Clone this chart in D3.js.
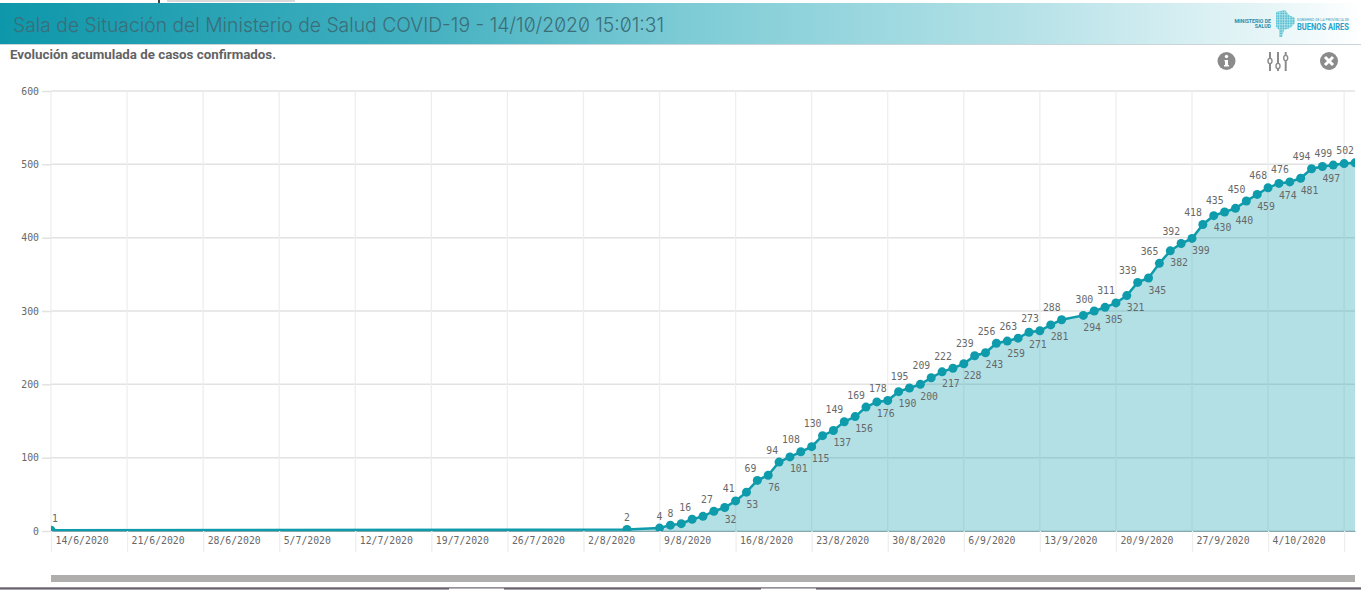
<!DOCTYPE html>
<html>
<head>
<meta charset="utf-8">
<script src="https://cdn.jsdelivr.net/npm/d3@7"></script>
<style>
  html, body { margin: 0; padding: 0; background: #fff; overflow: hidden; }
  svg { display: block; }
  .mono { font-family: "DejaVu Sans Mono", monospace; font-size: 9.8px; fill: #686868; }
  .title { font-family: Inter, Roboto, sans-serif; font-weight: 300; font-size: 20px; font-feature-settings: "zero"; }
</style>
</head>
<body>
<svg id="chart" width="1361" height="590"></svg>
<script>
const titleText = "Sala de Situación del Ministerio de Salud COVID-19 - 14/10/2020 15:01:31";
const subtitleText = "Evolución acumulada de casos confirmados.";

const dates = [
  "14/6/2020", "6/8/2020", "9/8/2020", "10/8/2020", "11/8/2020", "12/8/2020", "13/8/2020", "14/8/2020",
  "15/8/2020", "16/8/2020", "17/8/2020", "18/8/2020", "19/8/2020", "20/8/2020", "21/8/2020", "22/8/2020",
  "23/8/2020", "24/8/2020", "25/8/2020", "26/8/2020", "27/8/2020", "28/8/2020", "29/8/2020", "30/8/2020",
  "31/8/2020", "1/9/2020", "2/9/2020", "3/9/2020", "4/9/2020", "5/9/2020", "6/9/2020", "7/9/2020",
  "8/9/2020", "9/9/2020", "10/9/2020", "11/9/2020", "12/9/2020", "13/9/2020", "14/9/2020", "15/9/2020",
  "17/9/2020", "18/9/2020", "19/9/2020", "20/9/2020", "21/9/2020", "22/9/2020", "23/9/2020", "24/9/2020",
  "25/9/2020", "26/9/2020", "27/9/2020", "28/9/2020", "29/9/2020", "30/9/2020", "1/10/2020", "2/10/2020",
  "3/10/2020", "4/10/2020", "5/10/2020", "6/10/2020", "7/10/2020", "8/10/2020", "9/10/2020", "10/10/2020",
  "11/10/2020", "12/10/2020"
];
const cases = [
  1, 2, 4, 8, 10, 16, 20, 27,
  32, 41, 53, 69, 76, 94, 101, 108,
  115, 130, 137, 149, 156, 169, 176, 178,
  190, 195, 200, 209, 217, 222, 228, 239,
  243, 256, 259, 263, 271, 273, 281, 288,
  294, 300, 305, 311, 321, 339, 345, 365,
  382, 392, 399, 418, 430, 435, 440, 450,
  459, 468, 474, 476, 481, 494, 497, 499,
  501, 502
];
// the chart skips these labels because they would collide
const unlabelled = [10, 20, 501];
const xTicks = [
  "14/6/2020", "21/6/2020", "28/6/2020", "5/7/2020", "12/7/2020", "19/7/2020", "26/7/2020", "2/8/2020", "9/8/2020",
  "16/8/2020", "23/8/2020", "30/8/2020", "6/9/2020", "13/9/2020", "20/9/2020", "27/9/2020", "4/10/2020", "11/10/2020"
];
const yTicks = [0, 100, 200, 300, 400, 500, 600];

const parseDay = d3.utcParse("%d/%m/%Y");
const points = dates.map((d, i) => ({ date: parseDay(d), value: cases[i] }));

const plotLeft = 51, plotRight = 1355, plotTop = 91, plotBottom = 531;
const x = d3.scaleUtc().domain([points[0].date, points[points.length - 1].date]).range([plotLeft, plotRight]);
const y = d3.scaleLinear().domain([0, 600]).range([plotBottom, plotTop]);

const svg = d3.select("#chart");
const defs = svg.append("defs");

const grad = defs.append("linearGradient").attr("id", "band");
[[0, "#0e97aa"], [0.3, "#41afbf"], [0.5, "#7ccbd5"], [0.75, "#b4e1e7"], [0.93, "#e6f5f7"], [1, "#ffffff"]].forEach(s => {
    grad.append("stop").attr("offset", s[0]).attr("stop-color", s[1]);
});

defs.append("clipPath").attr("id", "plot")
    .append("rect").attr("x", plotLeft).attr("y", plotTop).attr("width", plotRight - plotLeft).attr("height", plotBottom - plotTop);

// speckle for the province map in the logo
const speckle = defs.append("pattern").attr("id", "speckle")
    .attr("patternUnits", "userSpaceOnUse").attr("width", 2.5).attr("height", 2.5);
speckle.append("rect").attr("width", 2.5).attr("height", 2.5).attr("fill", "#a9e2ea");
speckle.append("circle").attr("cx", 1).attr("cy", 1).attr("r", 0.8).attr("fill", "#35afc8");

// window edges
svg.append("rect").attr("x", 167).attr("y", 0).attr("width", 128).attr("height", 2).attr("fill", "#d9d9d9");
svg.append("rect").attr("x", 158).attr("y", 0).attr("width", 2).attr("height", 3).attr("fill", "#444");
svg.append("rect").attr("x", 0).attr("y", 588).attr("width", 1361).attr("height", 2).attr("fill", "#a8a3ab");
svg.append("rect").attr("x", 0).attr("y", 587.5).attr("width", 1361).attr("height", 1).attr("fill", "#2b2233");
svg.append("rect").attr("x", 449).attr("y", 588.5).attr("width", 55).attr("height", 2).attr("fill", "#fff");
svg.append("rect").attr("x", 761).attr("y", 588.5).attr("width", 55).attr("height", 2).attr("fill", "#fff");

// header band
svg.append("rect").attr("x", 0).attr("y", 3).attr("width", 1361).attr("height", 41).attr("fill", "url(#band)");
svg.append("line").attr("x1", 0).attr("x2", 1361).attr("y1", 44.5).attr("y2", 44.5).attr("stroke", "#c9d6d8");

svg.append("text")
    .attr("class", "title")
    .attr("x", 13).attr("y", 32)
    .attr("textLength", 651).attr("lengthAdjust", "spacingAndGlyphs")
    .attr("fill", "#3b6e78")
    .text(titleText);

svg.append("text")
    .attr("x", 10).attr("y", 59)
    .attr("textLength", 266).attr("lengthAdjust", "spacingAndGlyphs")
    .attr("font-family", "Roboto").attr("font-weight", 700).attr("font-size", 13)
    .attr("fill", "#636363")
    .text(subtitleText);

// logo
const logo = svg.append("g").attr("font-family", "Roboto").attr("font-weight", 700);
logo.append("text").attr("x", 1271).attr("y", 22.5).attr("text-anchor", "end").attr("font-size", 5.2).attr("fill", "#1f8fae").text("MINISTERIO DE");
logo.append("text").attr("x", 1271).attr("y", 28).attr("text-anchor", "end").attr("font-size", 5.2).attr("fill", "#1f8fae").text("SALUD");
logo.append("text").attr("x", 1297).attr("y", 21).attr("font-size", 4).attr("font-weight", 400).attr("fill", "#3aa0ba")
    .attr("textLength", 52).attr("lengthAdjust", "spacingAndGlyphs").text("GOBIERNO DE LA PROVINCIA DE");
logo.append("text").attr("x", 1297).attr("y", 29.5).attr("font-size", 8.6).attr("fill", "#25a2ca")
    .attr("textLength", 52).attr("lengthAdjust", "spacingAndGlyphs").text("BUENOS AIRES");
logo.append("path")
    .attr("d", "M1276 12 L1285 10 L1289 15 L1295 18 L1295 23 L1290 28 L1284 30 L1282 37 L1279 37 L1279 30 L1276 27 Z")
    .attr("fill", "url(#speckle)");

// toolbar icons
const iconGrey = "#8b8b8b";
svg.append("circle").attr("cx", 1226.5).attr("cy", 61).attr("r", 9).attr("fill", iconGrey);
svg.append("circle").attr("cx", 1226.5).attr("cy", 56.5).attr("r", 1.7).attr("fill", "#fff");
svg.append("path").attr("d", "M1224.5 60 h3.5 v5 h1 v1.5 h-5 v-1.5 h1 v-3.5 h-0.5 z").attr("fill", "#fff");

[[1270, 61], [1278, 66], [1285.7, 58]].forEach(s => {
    svg.append("line").attr("x1", s[0]).attr("x2", s[0]).attr("y1", 52).attr("y2", 71).attr("stroke", iconGrey).attr("stroke-width", 2);
    svg.append("ellipse").attr("cx", s[0]).attr("cy", s[1]).attr("rx", 2).attr("ry", 2.6).attr("fill", "#fff").attr("stroke", iconGrey).attr("stroke-width", 1.4);
});

svg.append("circle").attr("cx", 1329).attr("cy", 61).attr("r", 9).attr("fill", iconGrey);
svg.append("path").attr("d", "M1325 57 L1333 65 M1333 57 L1325 65").attr("stroke", "#fff").attr("stroke-width", 3);

// grid sits under the translucent area so it shows through
const grid = svg.append("g");
grid.selectAll("line.h").data(yTicks).join("line").attr("class", "h")
    .attr("x1", plotLeft).attr("x2", plotRight).attr("y1", d => y(d)).attr("y2", d => y(d))
    .attr("stroke", "#e2e2e2").attr("stroke-width", 1.5);
grid.selectAll("line.v").data(xTicks).join("line").attr("class", "v")
    .attr("x1", d => x(parseDay(d))).attr("x2", d => x(parseDay(d))).attr("y1", plotTop).attr("y2", plotBottom)
    .attr("stroke", "#eeeeee").attr("stroke-width", 1.3);

const plot = svg.append("g").attr("clip-path", "url(#plot)");

plot.append("path")
    .datum(points)
    .attr("fill", "#23a5b5").attr("fill-opacity", 0.35)
    .attr("d", d3.area().x(d => x(d.date)).y0(plotBottom).y1(d => y(d.value)));

plot.append("path")
    .datum(points)
    .attr("fill", "none").attr("stroke", "#0e9bab").attr("stroke-width", 2.5)
    .attr("d", d3.line().x(d => x(d.date)).y(d => y(d.value)));

plot.selectAll("circle").data(points).join("circle")
    .attr("cx", d => x(d.date)).attr("cy", d => y(d.value))
    .attr("r", 4.5).attr("fill", "#0e9bab");

// axes
const yAxis = svg.append("g").attr("transform", `translate(${plotLeft},0)`)
    .call(d3.axisLeft(y).tickValues(yTicks).tickSize(9).tickPadding(3));
yAxis.select(".domain").remove();
yAxis.selectAll("line").attr("stroke", "#e2e2e2").attr("stroke-width", 1.5);
yAxis.selectAll("text").attr("class", "mono");
yAxis.attr("font-family", null).attr("font-size", null);

const xAxis = svg.append("g").attr("transform", `translate(0,${plotBottom})`)
    .call(d3.axisBottom(x).tickValues(xTicks.map(parseDay)).tickSize(21).tickSizeOuter(0)
        .tickFormat((d, i) => i < xTicks.length - 1 ? xTicks[i] : ""));
xAxis.select(".domain").attr("stroke", "#86a9ae").attr("stroke-width", 1);
xAxis.selectAll("line").attr("stroke", "#eeeeee").attr("stroke-width", 1.3);
xAxis.selectAll("text").attr("class", "mono").attr("text-anchor", "start").attr("x", 4).attr("y", 6).attr("dy", "0.71em");
xAxis.attr("font-family", null).attr("font-size", null);

// value labels: small ones sit on the point, then they alternate above and below
const labelled = points.filter(d => !unlabelled.includes(d.value));
const firstAlternating = labelled.findIndex(d => d.value === 27);

svg.append("g").selectAll("text").data(labelled).join("text")
    .attr("class", "mono")
    .each(function (d, i) {
        const below = i > firstAlternating && (i - firstAlternating) % 2 === 1 && d.value !== 502;
        const px = x(d.date), py = y(d.value);
        let anchor = below ? "start" : "end";
        let tx = below ? px : px - 1;
        if (i === 0) { anchor = "start"; tx = px + 1; }
        else if (d.value < 10) { anchor = "middle"; tx = px; }
        d3.select(this)
            .attr("text-anchor", anchor)
            .attr("x", tx)
            .attr("y", below ? py + 15.5 : py - 8.5);
    })
    .text(d => d.value);

// scrollbar
svg.append("rect").attr("x", plotLeft).attr("y", 575).attr("width", plotRight - plotLeft).attr("height", 7).attr("fill", "#b0aeac");
</script>
</body>
</html>
